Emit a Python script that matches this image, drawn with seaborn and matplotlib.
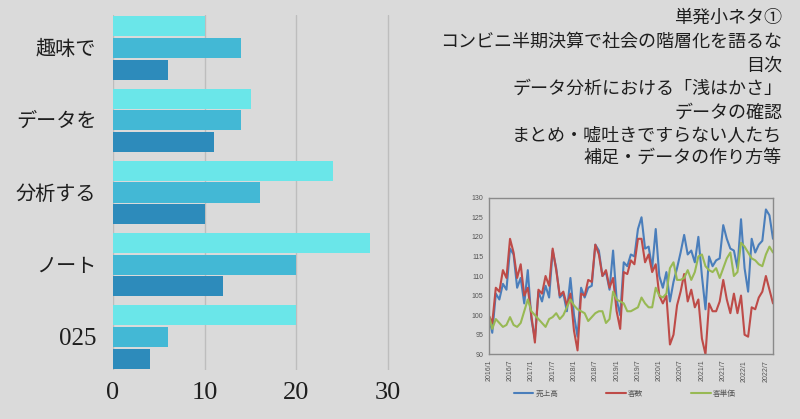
import numpy as np
import pandas as pd
import matplotlib
matplotlib.use("Agg")
import matplotlib.pyplot as plt
import seaborn as sns

# ---- main bar chart data ----
categories = ["趣味で", "データを", "分析する", "ノート", "025"]
series_names = ["系列1", "系列2", "系列3"]
series_a = [10, 15, 24, 28, 20]
series_b = [14, 14, 16, 20, 6]
series_c = [6, 11, 10, 12, 4]
bar_colors = ["#6ae6e9", "#43b8d5", "#2d8bbb"]
x_ticks = [0, 10, 20, 30]

# ---- heading text ----
headings = [
    "単発小ネタ①",
    "コンビニ半期決算で社会の階層化を語るな",
    "目次",
    "データ分析における「浅はかさ」",
    "データの確認",
    "まとめ・嘘吐きですらない人たち",
    "補足・データの作り方等",
]

# ---- inset line chart data (monthly, 2016/1 - 2022/9) ----
line_names = ["売上高", "客数", "客単価"]
line_colors = ["#4a7ebb", "#be4b48", "#98b954"]
sales = [100, 95.5, 105.5, 104, 108, 106.5, 117, 115.5, 107, 109.5,
         103, 111.5, 99, 94, 106, 103.5, 107.5, 104.5, 116.5, 112,
         104.5, 105.5, 101, 109.5, 100, 94.5, 107, 104.5, 107, 107.5,
         118, 116.5, 110, 111, 106.5, 116.5, 104, 100, 113.5, 112.5,
         115.5, 115, 122, 125, 117, 117.5, 112, 122, 110, 107,
         111, 103.5, 108.5, 112, 116, 120.5, 115.5, 116.5, 113.5, 120,
         110, 101.5, 115, 112.5, 114, 114.5, 123, 119.5, 117, 116.5,
         112, 124.5, 112, 106, 119.5, 116, 118, 119, 127, 125.5,
         119.5]
customers = [100, 98, 107, 106, 111.5, 109.5, 119.5, 116, 109.5, 113,
             105, 107, 100, 93, 106.5, 105.5, 110, 107.5, 117, 111.5,
             105, 106, 102.5, 105.5, 96, 91, 105.5, 105, 109, 108.5,
             118, 115.5, 110, 111.5, 107, 109.5, 101, 96.5, 111, 110.5,
             114, 113, 119.5, 119.5, 113.5, 115.5, 111, 113, 105, 103,
             105, 92.5, 95, 102.5, 106, 110.5, 103.5, 106.5, 102, 104,
             94, 90, 103, 101, 101, 103.5, 109, 104, 100.5, 105.5,
             100.5, 105, 95, 94.5, 102, 101.5, 104.5, 106, 110, 106.5,
             103]
unit_price = [100, 96.5, 99, 98, 97, 97.5, 99.5, 97.5, 97, 98,
              101, 104, 101, 100, 99, 98, 97, 99, 99.5, 100.5,
              99, 100, 102, 104, 102.5, 101.5, 101, 100.5, 98.5, 99.5,
              100.5, 101, 101, 98, 99, 106, 104, 103.5, 103, 101,
              101, 101.5, 102, 104.5, 103, 102, 102, 107, 105, 104.5,
              105.5, 112, 113.5, 109, 109, 109.5, 111.5, 109, 111, 115,
              115.5, 112.5, 111.5, 111, 112, 109.5, 112, 114.5, 116, 110,
              111, 118.5, 117.5, 116, 114.5, 114, 113, 112.5, 115.5, 117.5,
              116]
month_tick_labels = ["2016/1", "2016/7", "2017/1", "2017/7", "2018/1", "2018/7",
                     "2019/1", "2019/7", "2020/1", "2020/7", "2021/1", "2021/7",
                     "2022/1", "2022/7"]
y_ticks_inset = [90, 95, 100, 105, 110, 115, 120, 125, 130]

sns.set_theme(style="white")
plt.rcParams["font.family"] = ["Liberation Serif", "Noto Sans CJK JP", "DejaVu Sans"]

W, H = 800, 419
bg = "#dadada"
fig = plt.figure(figsize=(W / 100, H / 100), dpi=100, facecolor=bg)

# ---------------- bar chart ----------------
x_max = 30.3
ax = fig.add_axes([113 / W, 1 - 369.5 / H, 275 * x_max / 30 / W, 354 / H])
ax.set_facecolor(bg)
df = pd.DataFrame({
    "cat": categories * 3,
    "val": series_a + series_b + series_c,
    "series": np.repeat(series_names, len(categories)),
})
sns.barplot(data=df, y="cat", x="val", hue="series", order=categories,
            hue_order=series_names, palette=bar_colors, orient="h",
            width=0.9, gap=0.07, saturation=1, linewidth=0,
            legend=False, ax=ax)
ax.set_ylim(4.45, -0.45)
ax.set_xlim(0, x_max)
ax.set_xticks(x_ticks)
ax.grid(axis="x", color="#bdbdbd", lw=1)
ax.grid(axis="y", visible=False)
ax.set_axisbelow(True)
for s in ax.spines.values():
    s.set_visible(False)
ax.set_xlabel("")
ax.set_ylabel("")
ax.tick_params(axis="x", length=0, pad=9, labelsize=19, labelcolor="#1e1e1e")
ax.tick_params(axis="y", length=0, pad=12, labelsize=14.5, labelcolor="#1e1e1e")
for lab in ax.get_yticklabels():
    if lab.get_text().isascii():
        lab.set_fontsize(18)

# ---------------- headings ----------------
head_y = [18, 42, 66, 89, 113, 135, 158]
for txt, yy in zip(headings, head_y):
    fig.text(782 / W, 1 - yy / H, txt, ha="right", va="center", fontsize=13,
             color="#1e1e1e", family=["Noto Sans CJK JP", "DejaVu Sans"])

# ---------------- inset line chart ----------------
ax2 = fig.add_axes([488.7 / W, 1 - 354.3 / H, (773 - 488.7) / W, 156.6 / H])
ax2.set_facecolor(bg)
n = len(sales)
ldf = pd.DataFrame({
    "idx": np.tile(np.arange(n), 3),
    "val": sales + customers + unit_price,
    "series": np.repeat(line_names, n),
})
sns.lineplot(data=ldf, x="idx", y="val", hue="series", hue_order=line_names,
             palette=line_colors, lw=1.5, ax=ax2)
ax2.set_xlim(0, n - 1)
ax2.set_ylim(90, 130)
ax2.set_yticks(y_ticks_inset)
ax2.set_xticks(np.arange(0, n, 6)[:len(month_tick_labels)])
ax2.set_xticklabels(month_tick_labels, rotation=90, family="Liberation Sans")
for lab in ax2.get_yticklabels():
    lab.set_family("Liberation Sans")
ax2.set_xlabel("")
ax2.set_ylabel("")
for s in ax2.spines.values():
    s.set_visible(True)
    s.set_color("#8a8a8a")
    s.set_linewidth(1)
ax2.tick_params(axis="both", labelsize=5, labelcolor="#555555", colors="#8a8a8a",
                length=2, width=0.8, pad=2)
ax2.tick_params(axis="y", length=0, pad=4, labelcolor="#555555")
ax2.tick_params(axis="x", direction="out", labelcolor="#555555")
handles, labels = ax2.get_legend_handles_labels()
leg = ax2.legend(handles, labels, loc="center", bbox_to_anchor=(0.478, -0.253),
                 ncol=3, frameon=False, handlelength=2.6,
                 handletextpad=0.3, columnspacing=6.2,
                 prop={"family": ["Noto Sans CJK JP"], "size": 5.5})
for t in leg.get_texts():
    t.set_color("#555555")

fig.savefig("out.png", dpi=100, facecolor=bg)
